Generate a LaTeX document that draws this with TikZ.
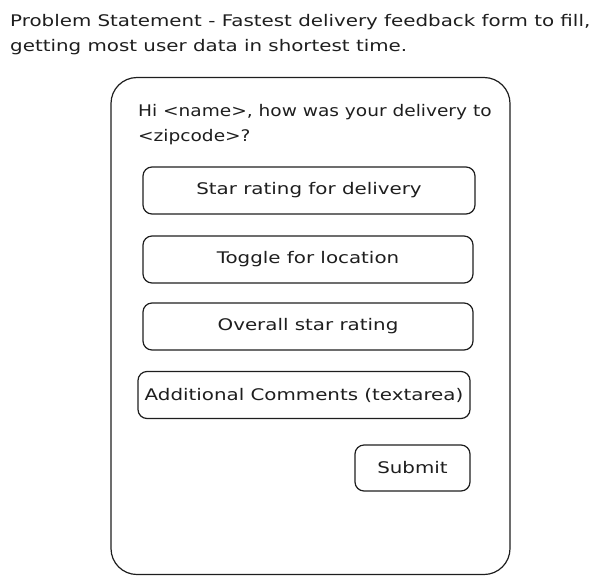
\documentclass[tikz,border=0pt]{standalone}
\usepackage{fontspec}
\setmainfont[FakeStretch=1.24]{DejaVu Sans}
\definecolor{ink}{HTML}{1E1E1E}
\begin{document}
\begin{tikzpicture}[x=1pt,y=-1pt,
  sketch/.style={draw=ink,line width=1.2pt,line join=round},
  field/.style={sketch,rounded corners=9pt,minimum height=47pt,inner sep=0pt,
    text=ink,font=\fontsize{16}{21}\selectfont},
  label/.style={inner sep=0pt,anchor=west,text=ink,font=\fontsize{16}{21}\selectfont}]
\useasboundingbox (0,0) rectangle (615,584);
% title
\node[label] (t1) at (10,22) {Problem Statement - Fastest delivery feedback form to fill,};
\node[label] (t2) at (10,47) {getting most user data in shortest time.};
% form frame
\node[sketch,rounded corners=26pt,minimum width=399pt,minimum height=497pt,inner sep=0pt]
  (frame) at (310.5,326) {};
\node[label] (q1) at (138,112) {\scalebox{0.935}[1]{Hi <name>, how was your delivery to}};
\node[label] (q2) at (138,137) {\scalebox{0.935}[1]{<zipcode>?}};
% input fields
\node[field,minimum width=332pt] (star) at (309,190.5) {Star rating for delivery};
\node[field,minimum width=330pt] (toggle) at (308,259.5) {Toggle for location};
\node[field,minimum width=330pt] (overall) at (308,326.5) {Overall star rating};
\node[field,minimum width=332pt] (comments) at (304,395) {Additional Comments (textarea)};
\node[field,minimum width=115pt,minimum height=46pt] (submit) at (412.5,468) {Submit};
\end{tikzpicture}
\end{document}
